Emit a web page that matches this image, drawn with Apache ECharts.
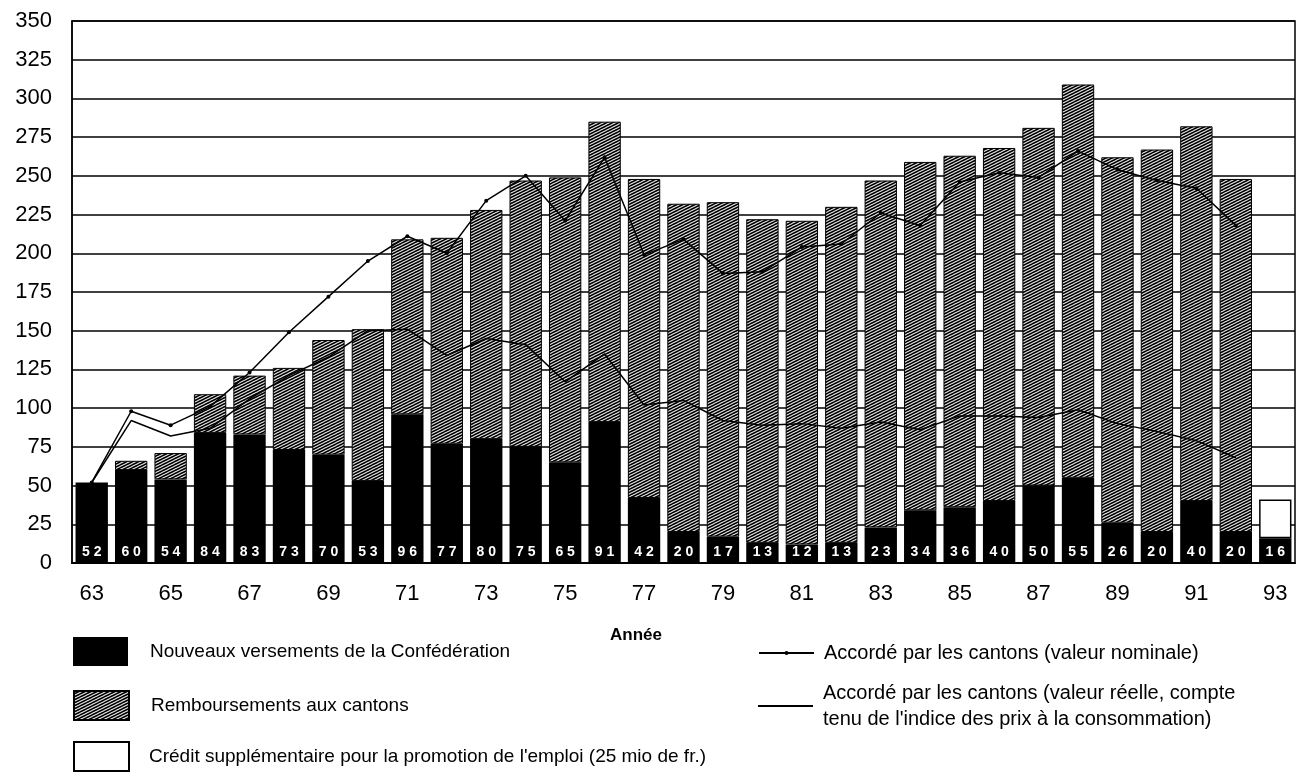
<!DOCTYPE html>
<html>
<head>
<meta charset="utf-8">
<script src="https://cdn.jsdelivr.net/npm/echarts@6/dist/echarts.min.js"></script>
<style>
  html, body { margin: 0; padding: 0; background: #fff; }
  #chart { width: 1297px; height: 775px; }
</style>
</head>
<body>
<div id="chart"></div>
<script>
var years = ['63','64','65','66','67','68','69','70','71','72','73','74','75','76','77','78',
             '79','80','81','82','83','84','85','86','87','88','89','90','91','92','93'];
// Nouveaux versements de la Confédération
var nouveaux = [52,60,54,84,83,73,70,53,96,77,80,75,65,91,42,20,17,13,12,13,23,34,36,40,50,55,26,20,40,20,16];
// Remboursements aux cantons (partie hachurée)
var rembours = ['-',6,17,25,38,53,74,98,113,133,148,172,184,194,206,212,216,209,209,217,224,225,227,228,231,254,236,247,242,228,'-'];
// Crédit supplémentaire (93 seulement)
var credit = ['-','-','-','-','-','-','-','-','-','-','-','-','-','-','-','-','-','-','-','-','-','-','-','-','-','-','-','-','-','-',25];
// Accordé par les cantons (nominal)
var nominal = [52,98,89,101,123,149,172,195,211,200,234,250,221,262,199,209,187,188,204,206,226,218,246,252,249,266,254,247,242,218,'-'];
// Accordé par les cantons (réel)
var reel = [52,92,82,87,106,121,133,150,151,134,145,141,117,135,102,105,92,89,90,87,91,86,95,95,94,99,90,85,79,68,'-'];

var yTicks = { min: 0, max: 350, step: 25 };

var names = {
    nouv: 'Nouveaux versements de la Confédération',
    remb: 'Remboursements aux cantons',
    cred: "Crédit supplémentaire pour la promotion de l'emploi (25 mio de fr.)",
    nom: 'Accordé par les cantons (valeur nominale)',
    reel: "Accordé par les cantons (valeur réelle, compte\ntenu de l'indice des prix à la consommation)"
};

// motif hachuré ////
function hatch() {
    var w = 6, h = 3;
    var c = document.createElement('canvas');
    c.width = w; c.height = h;
    var ctx = c.getContext('2d');
    ctx.fillStyle = '#fff';
    ctx.fillRect(0, 0, w, h);
    ctx.strokeStyle = '#000';
    ctx.lineWidth = 1.7;
    for (var dx = -w; dx <= w; dx += w) {
        for (var dy = -h; dy <= h; dy += h) {
            ctx.beginPath();
            ctx.moveTo(dx, h + dy);
            ctx.lineTo(dx + w, dy);
            ctx.stroke();
        }
    }
    return { image: c, repeat: 'repeat' };
}
var hatchFill = hatch();

var font = 'Liberation Sans, Arial, sans-serif';
var chart = echarts.init(document.getElementById('chart'), null, { renderer: 'canvas' });

function legendAt(name, left, top, opts) {
    return Object.assign({
        data: [{ name: name, icon: 'rect' }],
        left: left,
        top: top,
        padding: 0,
        orient: 'vertical',
        itemWidth: 55,
        itemHeight: 29,
        selectedMode: false,
        textStyle: { fontFamily: font, fontSize: 19, color: '#000', padding: [4, 0, 0, 17] }
    }, opts || {});
}

var rightText = { fontFamily: font, fontSize: 20, color: '#000', lineHeight: 26, padding: [2, 0, 0, 5] };

var option = {
    animation: false,
    title: {
        text: 'Année',
        left: 610,
        top: 627,
        padding: 0,
        textStyle: { fontFamily: font, fontSize: 17, fontWeight: 'bold', color: '#000' }
    },
    legend: [
        legendAt(names.nouv, 73, 637),
        legendAt(names.remb, 73, 690),
        legendAt(names.cred, 73, 741, { textStyle: { fontFamily: font, fontSize: 19, color: '#000', padding: [4, 0, 0, 15] } }),
        legendAt(names.nom, 758, 639, { data: [names.nom], itemHeight: 5, textStyle: rightText }),
        legendAt(names.reel, 758, 679, { itemHeight: 2, textStyle: rightText })
    ],
    grid: {
        left: 72, right: 2, top: 21, bottom: 212,
        show: true, borderColor: '#000', borderWidth: 1.5
    },
    xAxis: {
        type: 'category',
        data: years,
        axisLine: { lineStyle: { color: '#000', width: 2 } },
        axisTick: { interval: 1, alignWithLabel: true, length: 11, lineStyle: { color: '#000', width: 1.5 } },
        axisLabel: { interval: 1, color: '#000', fontFamily: font, fontSize: 22, margin: 20 }
    },
    yAxis: {
        type: 'value',
        min: yTicks.min,
        max: yTicks.max,
        interval: yTicks.step,
        axisLine: { show: true, lineStyle: { color: '#000', width: 1.5 } },
        axisTick: { show: false },
        axisLabel: { color: '#000', fontFamily: font, fontSize: 22, margin: 20 },
        splitLine: { lineStyle: { color: '#000', width: 1.5 } }
    },
    series: [
        {
            name: names.nouv,
            type: 'bar',
            stack: 'total',
            barCategoryGap: '18%',
            data: nouveaux,
            itemStyle: { color: '#000' },
            label: {
                show: true,
                position: 'insideBottom',
                distance: 4,
                color: '#fff',
                fontFamily: font,
                fontWeight: 'bold',
                fontSize: 14,
                formatter: function (p) { return String(p.value).split('').join(' '); }
            }
        },
        {
            name: names.remb,
            type: 'bar',
            stack: 'total',
            data: rembours,
            itemStyle: { color: hatchFill, borderColor: '#000', borderWidth: 1 }
        },
        {
            name: names.cred,
            type: 'bar',
            stack: 'total',
            data: credit,
            itemStyle: { color: '#fff', borderColor: '#000', borderWidth: 1.5 }
        },
        {
            name: names.nom,
            type: 'line',
            data: nominal,
            z: 5,
            symbol: 'circle',
            symbolSize: 4,
            itemStyle: { color: '#000' },
            lineStyle: { color: '#000', width: 1.5 }
        },
        {
            name: names.reel,
            type: 'line',
            data: reel,
            z: 5,
            symbol: 'none',
            itemStyle: { color: '#000' },
            lineStyle: { color: '#000', width: 1.5 }
        }
    ]
};

chart.setOption(option);
</script>
</body>
</html>
